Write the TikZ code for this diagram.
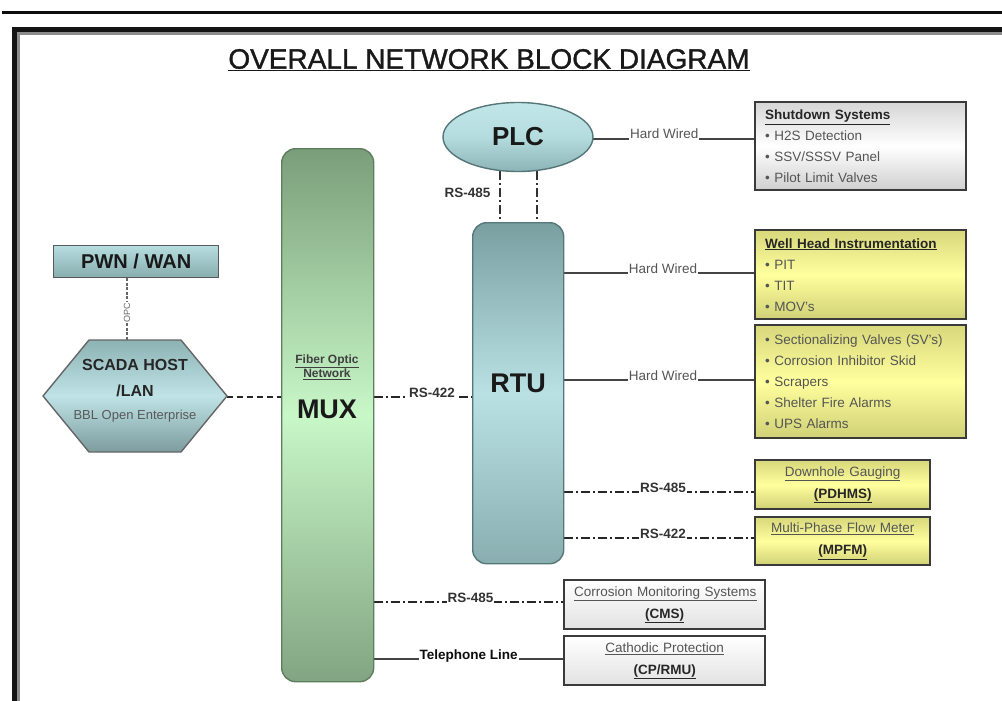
\documentclass[tikz,border=0pt]{standalone}
\usepackage{fontspec}
\setmainfont{Liberation Sans}
\newfontfamily\titlefont{Liberation Sans}[FakeBold=1.2]
\usetikzlibrary{shapes.geometric}

\definecolor{boxline}{HTML}{3A3A3A}
\definecolor{itemcol}{HTML}{555555}
\definecolor{ytop}{HTML}{D8D87C}
\definecolor{ymid}{HTML}{FFFF9E}
\definecolor{ybot}{HTML}{D0D076}
\definecolor{gtop}{HTML}{D6D6D6}
\definecolor{gbot}{HTML}{CFCFCF}
\definecolor{wbot}{HTML}{E2E2E2}
\definecolor{muxtop}{HTML}{7A9E7A}
\definecolor{muxmid}{HTML}{C8F7C8}
\definecolor{muxbot}{HTML}{82A482}
\definecolor{muxline}{HTML}{5E7E5E}
\definecolor{rtutop}{HTML}{7A9FA1}
\definecolor{rtumid}{HTML}{B9E1E4}
\definecolor{rtubot}{HTML}{8AAEB0}
\definecolor{rtuline}{HTML}{55777A}
\definecolor{plctop}{HTML}{C2E6E8}
\definecolor{plcmid}{HTML}{B4DCDF}
\definecolor{plcbot}{HTML}{8CB3B6}
\definecolor{pwntop}{HTML}{B6DDDF}
\definecolor{pwnbot}{HTML}{86ACAE}
\definecolor{hxtop}{HTML}{8DB2B4}
\definecolor{hxmid}{HTML}{BFE3E6}
\definecolor{hxbot}{HTML}{7C9C9E}
\definecolor{wirecol}{HTML}{444444}

\pgfdeclarelayer{bg}
\pgfsetlayers{bg,main}

\tikzset{
  bx/.style={rectangle, draw=boxline, line width=2.4pt, anchor=north west,
             inner ysep=0pt, inner xsep=10pt},
  ybox/.style={bx, top color=ytop, bottom color=ybot, middle color=ymid},
  gbox/.style={bx, top color=gtop, bottom color=gbot, middle color=white},
  wbox/.style={bx, top color=white, bottom color=wbot},
  listtxt/.style={font=\fontsize{13.5}{21}\selectfont, text=itemcol, align=left},
  pairtxt/.style={font=\fontsize{13.5}{22}\selectfont, text=itemcol, align=center},
  wire/.style={draw=wirecol, line width=1.2pt},
  dashdotwire/.style={draw=black!85, line width=1.6pt,
             dash pattern=on 9pt off 3pt on 2pt off 3pt},
  dashwire/.style={draw=black!85, line width=1.5pt, dash pattern=on 6pt off 4pt},
  hardlbl/.style={font=\fontsize{13.5}{16}\selectfont, text=itemcol, fill=white,
             inner xsep=1pt, inner ysep=1pt, anchor=base},
  rslbl/.style={font=\bfseries\fontsize{13.5}{16}\selectfont, text=black!80, fill=white,
             inner xsep=1pt, inner ysep=1pt, anchor=base},
  bigtxt/.style={font=\bfseries\fontsize{#1}{#1}\selectfont, text=black!90},
}

\begin{document}
\begin{tikzpicture}[x=1pt, y=-1pt]
\useasboundingbox (0,0) rectangle (1002,701);
\begin{pgfonlayer}{bg}
  \fill[white] (0,0) rectangle (1002,701);
\end{pgfonlayer}

% page rule and frame
\draw[line width=3.5pt, black!95] (2,12.5) -- (1002,12.5);
\draw[line width=2.5pt, black!45] (18.5,701) -- (18.5,33.5) -- (1002,33.5);
\draw[line width=5pt, black!92] (14.5,701) -- (14.5,29.5) -- (1002,29.5);

% title
\node[font=\titlefont\fontsize{28}{28}\selectfont, text=black!90] (title) at (489,60)
  {\underline{OVERALL NETWORK BLOCK DIAGRAM}};

% MUX column
\node[rectangle, rounded corners=14pt, draw=muxline, line width=1.4pt,
      top color=muxtop, bottom color=muxbot, middle color=muxmid,
      minimum width=92pt, minimum height=533pt, anchor=north west] (mux) at (281,148) {};
\node[font=\bfseries\fontsize{12}{13}\selectfont, text=black!75, align=center] (fon) at (327,367)
  {\underline{Fiber Optic}\\\underline{Network}};
\node[bigtxt=27] (muxlbl) at (327,409) {MUX};

% RTU column
\node[rectangle, rounded corners=14pt, draw=rtuline, line width=1.4pt,
      top color=rtutop, bottom color=rtubot, middle color=rtumid,
      minimum width=91pt, minimum height=341pt, anchor=north west] (rtu) at (472,222) {};
\node[bigtxt=27] (rtulbl) at (518,383) {RTU};

% PLC
\node[ellipse, draw=rtuline, line width=1.4pt, top color=plctop, bottom color=plcbot,
      middle color=plcmid, minimum width=150pt, minimum height=69pt,
      font=\bfseries\fontsize{26}{26}\selectfont, text=black!90] (plc) at (518,137) {PLC};

% PWN / WAN
\node[rectangle, draw=black!65, line width=1.4pt, top color=pwntop, bottom color=pwnbot,
      minimum width=165pt, minimum height=32pt, anchor=north west,
      font=\bfseries\fontsize{20}{20}\selectfont, text=black!90] (pwn) at (53,245) {PWN / WAN};

% SCADA host hexagon
\shadedraw[draw=black!60, line width=1.4pt, top color=hxtop, bottom color=hxbot, middle color=hxmid]
  (43,396) -- (89,340) -- (181,340) -- (227,396) -- (181,452) -- (89,452) -- cycle;
\node[align=center, inner sep=0pt, text=black!85,
      font=\bfseries\fontsize{16}{26}\selectfont] (scada) at (135,391)
  {SCADA HOST\\/LAN\\[-3pt]\mdseries\fontsize{13}{15}\selectfont\color{black!65}BBL Open Enterprise};
\coordinate (scadaE) at (227,396);
\coordinate (scadaN) at (135,340);

% field boxes
\node[gbox, text width=191pt, minimum height=88pt, listtxt] (sd) at (754,101)
  {{\bfseries\color{black!85}\underline{Shutdown Systems}}\\
   • H2S Detection\\• SSV/SSSV Panel\\• Pilot Limit Valves};
\node[ybox, text width=191pt, minimum height=89pt, listtxt] (wh) at (754,229)
  {{\bfseries\color{black!85}\underline{Well Head Instrumentation}}\\
   • PIT\\• TIT\\• MOV's};
\node[ybox, text width=191pt, minimum height=113pt, listtxt] (sv) at (754,324)
  {• Sectionalizing Valves (SV's)\\• Corrosion Inhibitor Skid\\• Scrapers\\
   • Shelter Fire Alarms\\• UPS Alarms};
\node[ybox, text width=155pt, minimum height=49pt, pairtxt] (dh) at (754,459)
  {\underline{Downhole Gauging}\\{\bfseries\color{black!85}\underline{(PDHMS)}}};
\node[ybox, text width=155pt, minimum height=48pt, pairtxt] (mpfm) at (754,516)
  {\underline{Multi-Phase Flow Meter}\\{\bfseries\color{black!85}\underline{(MPFM)}}};
\node[wbox, text width=181pt, minimum height=49pt, pairtxt] (cms) at (563,579)
  {\underline{Corrosion Monitoring Systems}\\{\bfseries\color{black!85}\underline{(CMS)}}};
\node[wbox, text width=181pt, minimum height=49pt, pairtxt] (cp) at (563,635)
  {\underline{Cathodic Protection}\\{\bfseries\color{black!85}\underline{(CP/RMU)}}};

% heights of the feeder lines
\coordinate (plcY) at (0,139);
\coordinate (whY) at (0,273);
\coordinate (svY) at (0,380);
\coordinate (dhY) at (0,492);
\coordinate (mpY) at (0,538);
\coordinate (hostY) at (0,397);
\coordinate (cmsY) at (0,602);
\coordinate (cpY) at (0,659);
\coordinate (opcX) at (127,0);
\coordinate (linkA) at (500,0);
\coordinate (linkB) at (537,0);

\begin{pgfonlayer}{bg}
  % WAN uplink
  \draw[draw=black!60, line width=1.2pt, dash pattern=on 3pt off 1.5pt]
    (pwn.south -| opcX) -- (scadaN -| opcX)
    node[pos=0.55, rotate=90, fill=white, inner sep=0.6pt, text=black!60,
         font=\fontsize{9}{9}\selectfont] {OPC};
  % host to multiplexer
  \draw[dashwire] (scadaE |- hostY) -- (mux.west |- hostY);
  % multiplexer to RTU
  \draw[dashdotwire] (mux.east |- hostY) -- (rtu.west |- hostY)
    node[rslbl, pos=0.59] {RS-422};
  % PLC to RTU serial pair
  \draw[draw=black!80, line width=2.2pt, dash pattern=on 9pt off 3pt on 2pt off 3pt]
    (plc.center -| linkA) -- (rtu.north -| linkA);
  \draw[draw=black!80, line width=2.2pt, dash pattern=on 9pt off 3pt on 2pt off 3pt]
    (plc.center -| linkB) -- (rtu.north -| linkB);
  % PLC to shutdown systems
  \draw[wire] (plc.center |- plcY) -- (sd.west |- plcY)
    node[hardlbl, pos=0.62] {Hard Wired};
  % RTU feeders
  \draw[wire] (rtu.east |- whY) -- (wh.west |- whY) node[hardlbl, pos=0.52] {Hard Wired};
  \draw[wire] (rtu.east |- svY) -- (sv.west |- svY) node[hardlbl, pos=0.52] {Hard Wired};
  \draw[dashdotwire] (rtu.east |- dhY) -- (dh.west |- dhY) node[rslbl, pos=0.52] {RS-485};
  \draw[dashdotwire] (rtu.east |- mpY) -- (mpfm.west |- mpY) node[rslbl, pos=0.52] {RS-422};
  % MUX feeders
  \draw[dashdotwire] (mux.east |- cmsY) -- (cms.west |- cmsY) node[rslbl, pos=0.51] {RS-485};
  \draw[wire] (mux.east |- cpY) -- (cp.west |- cpY)
    node[rslbl, pos=0.5, text=black!95] {Telephone Line};
\end{pgfonlayer}

\node[font=\bfseries\fontsize{13.5}{16}\selectfont, text=black!80, anchor=base east]
  (rs485plc) at (494,197) {RS-485};
\end{tikzpicture}
\end{document}
